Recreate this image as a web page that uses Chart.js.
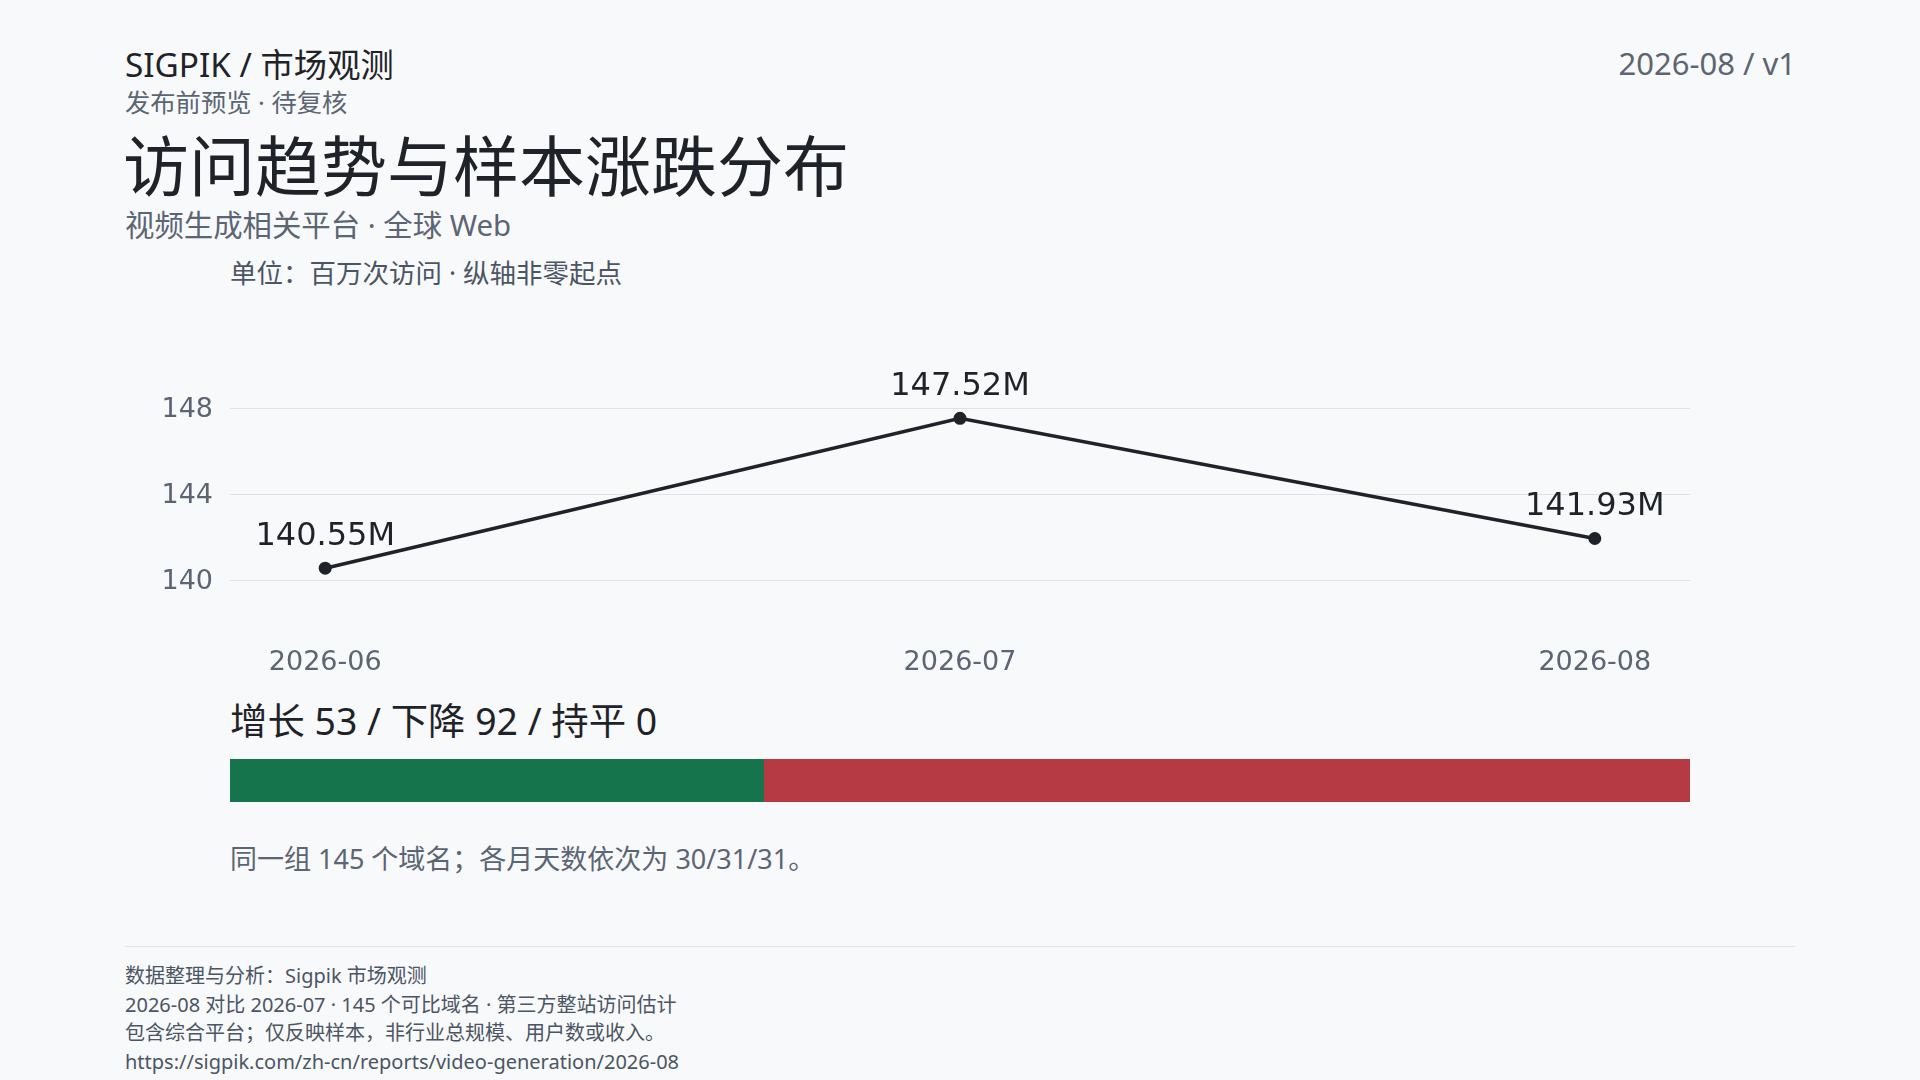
<!DOCTYPE html>
<html lang="zh-CN">
<head>
<meta charset="utf-8">
<script src="https://cdn.jsdelivr.net/npm/chart.js@4.4.1/dist/chart.umd.min.js"></script>
<style>
  html, body { margin:0; padding:0; }
  body { width:1920px; height:1080px; background:#f8f9fb; position:relative; overflow:hidden;
         font-family:"Noto Sans","Noto Sans CJK SC",sans-serif; }
  .t { position:absolute; line-height:1.2; white-space:nowrap; }
  #lineWrap { position:absolute; left:130px; top:330px; width:1580px; height:350px; }
  #barWrap { position:absolute; left:230px; top:759px; width:1460px; height:43px; }
  .divider { position:absolute; left:125px; top:946px; width:1670px; height:1px; background:#e0e3e7; }
</style>
</head>
<body>
<div class="t" style="left:125px;top:45px;font-size:33.3px;color:#1f2329;">SIGPIK / 市场观测</div>
<div class="t" style="left:125px;top:87px;font-size:25.3px;color:#5b6573;">发布前预览 · 待复核</div>
<div class="t" style="left:123px;top:126px;font-size:66px;color:#1f2329;">访问趋势与样本涨跌分布</div>
<div class="t" style="left:125px;top:208px;font-size:29.4px;color:#5b6573;">视频生成相关平台 · 全球 Web</div>
<div class="t" style="right:124px;top:45px;font-size:31px;color:#5b6573;">2026-08 / v1</div>
<div class="t" style="left:230px;top:258px;font-size:26.5px;color:#4b5563;">单位：百万次访问 · 纵轴非零起点</div>

<div id="lineWrap"><canvas id="lineChart"></canvas></div>

<div class="t" id="summary" style="left:230px;top:699px;font-size:37.4px;color:#1f2329;"></div>
<div id="barWrap"><canvas id="barChart"></canvas></div>
<div class="t" style="left:230px;top:843px;font-size:27px;color:#5b6573;">同一组 145 个域名；各月天数依次为 30/31/31。</div>

<div class="divider"></div>
<div class="t" style="left:125px;top:964px;font-size:20px;color:#4b5563;">数据整理与分析：Sigpik 市场观测</div>
<div class="t" style="left:125px;top:993px;font-size:20px;color:#4b5563;">2026-08 对比 2026-07 · 145 个可比域名 · 第三方整站访问估计</div>
<div class="t" style="left:125px;top:1021px;font-size:20px;color:#4b5563;">包含综合平台；仅反映样本，非行业总规模、用户数或收入。</div>
<div class="t" style="left:125px;top:1050px;font-size:20px;color:#4b5563;">https://sigpik.com/zh-cn/reports/video-generation/2026-08</div>

<script>
// ---- data ----
const months = ["2026-06", "2026-07", "2026-08"];
const visits = [140.55, 147.52, 141.93];          // millions
const visitLabels = ["140.55M", "147.52M", "141.93M"];
const yTicks = [140, 144, 148];
const moveNames = ["增长", "下降", "持平"];
const moveCounts = [53, 92, 0];
const moveColors = ["#15744c", "#b53a43", "#9aa3ad"];

document.getElementById('summary').textContent =
  moveNames.map((n, i) => n + " " + moveCounts[i]).join(" / ");

const pointLabelPlugin = {
  id: 'pointLabels',
  afterDatasetsDraw(chart) {
    const ctx = chart.ctx;
    const meta = chart.getDatasetMeta(0);
    ctx.save();
    ctx.font = '32px "DejaVu Sans"';
    ctx.fillStyle = '#1f2329';
    ctx.textAlign = 'center';
    ctx.textBaseline = 'middle';
    meta.data.forEach((pt, i) => {
      ctx.fillText(visitLabels[i], pt.x, pt.y - 31.5);
    });
    ctx.restore();
  }
};

new Chart(document.getElementById('lineChart'), {
  type: 'line',
  data: {
    datasets: [{
      data: visits.map((v, i) => ({ x: i, y: v })),
      borderColor: '#1f2329',
      backgroundColor: '#1f2329',
      borderWidth: 3.5,
      pointRadius: 6.5,
      pointBackgroundColor: '#1f2329',
      pointBorderWidth: 0,
      tension: 0,
      clip: false
    }]
  },
  options: {
    responsive: true,
    maintainAspectRatio: false,
    animation: false,
    layout: { padding: { top: 78, right: 20, left: 0, bottom: 0 } },
    plugins: { legend: { display: false }, tooltip: { enabled: false } },
    scales: {
      x: {
        type: 'linear',
        min: -0.15,
        max: 2.15,
        afterBuildTicks: s => { s.ticks = months.map((m, i) => ({ value: i })); },
        afterFit: s => { s.height = 100; s.paddingLeft = 0; s.paddingRight = 0; },
        grid: { display: false, drawTicks: false },
        border: { display: false },
        ticks: {
          padding: 67,
          color: '#5b6573',
          font: { family: 'DejaVu Sans', size: 27 },
          callback: v => months[v]
        }
      },
      y: {
        min: 140,
        max: 148,
        afterBuildTicks: s => { s.ticks = yTicks.map(v => ({ value: v })); },
        afterFit: s => { s.width = 100; s.paddingTop = 0; s.paddingBottom = 0; },
        grid: { color: '#dfe2e6', lineWidth: 1, drawTicks: false },
        border: { display: false },
        ticks: {
          padding: 17,
          labelOffset: 2,
          color: '#5b6573',
          font: { family: 'DejaVu Sans', size: 27 }
        }
      }
    }
  },
  plugins: [pointLabelPlugin]
});

new Chart(document.getElementById('barChart'), {
  type: 'bar',
  data: {
    labels: ["样本"],
    datasets: moveNames.map((n, i) => ({
      label: n,
      data: [moveCounts[i]],
      backgroundColor: moveColors[i],
      borderWidth: 0,
      barPercentage: 1,
      categoryPercentage: 1
    }))
  },
  options: {
    indexAxis: 'y',
    responsive: true,
    maintainAspectRatio: false,
    animation: false,
    layout: { padding: 0 },
    plugins: { legend: { display: false }, tooltip: { enabled: false } },
    scales: {
      x: { stacked: true, display: false, min: 0, max: moveCounts.reduce((a, b) => a + b, 0) },
      y: { stacked: true, display: false }
    }
  }
});
</script>
</body>
</html>
